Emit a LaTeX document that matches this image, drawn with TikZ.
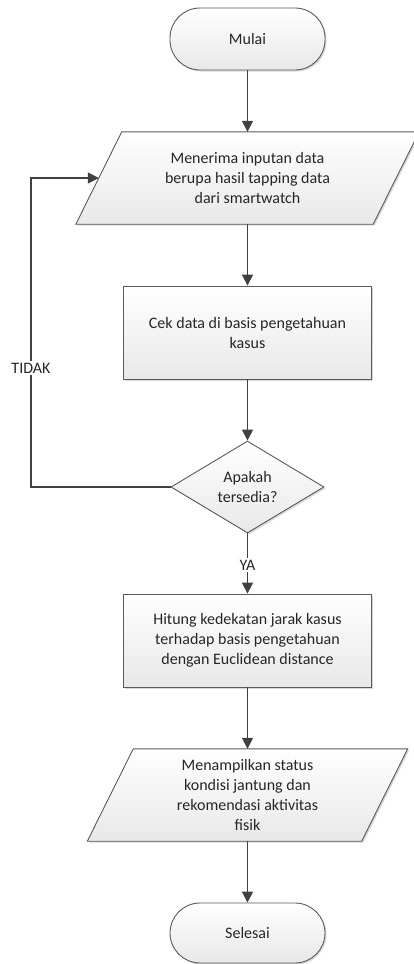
\documentclass[tikz,border=0pt]{standalone}
\usepackage{fontspec}
\setmainfont{Carlito}
\usetikzlibrary{shapes.geometric,shadows,calc,arrows.meta,backgrounds}
\definecolor{linec}{HTML}{404040}
\definecolor{borderc}{HTML}{5A5A5A}
\definecolor{txtc}{HTML}{262626}
\tikzset{
  shapestyle/.style={draw=borderc, line width=0.9pt, top color=white, bottom color=black!9,
    drop shadow={shadow xshift=1.5pt, shadow yshift=-1.5pt, fill=black!30, opacity=0.5}},
  term/.style={shapestyle, rectangle, rounded corners=30pt, minimum width=155pt, inner sep=0pt},
  procbox/.style={shapestyle, rectangle, minimum width=248pt, minimum height=93pt, inner sep=0pt, align=center},
  holder/.style={draw=none, rectangle, inner sep=0pt, align=center},
  decision/.style={shapestyle, diamond, aspect=1.66, minimum width=153pt, minimum height=92pt, inner sep=0pt, align=center},
  arr/.style={draw=linec, line width=1.6pt, -{Triangle[length=11pt,width=11pt]}},
  conn/.style={draw=linec, line width=1.6pt},
  lbl/.style={fill=white, inner sep=2pt},
}
\begin{document}
\begin{tikzpicture}[x=1pt,y=-1pt, font=\fontsize{16}{20}\selectfont, text=txtc]
\useasboundingbox (0,0) rectangle (414,964);
\node[term, minimum height=62pt] (start) at (247.5,39) {Mulai};
\node[holder, minimum width=297pt, minimum height=92pt] (p1) at (247.5,178) {Menerima inputan data\\berupa hasil tapping data\\dari smartwatch};
\node[procbox] (r1) at (247.5,332.5) {Cek data di basis pengetahuan\\kasus};
\node[decision] (d) at (247.5,487) {Apakah\\tersedia?};
\node[procbox] (r2) at (247.5,640.5) {Hitung kedekatan jarak kasus\\terhadap basis pengetahuan\\dengan Euclidean distance};
\node[holder, minimum width=274pt, minimum height=92pt] (p2) at (247.5,795) {Menampilkan status\\kondisi jantung dan\\rekomendasi aktivitas\\fisik};
\node[term, minimum height=60pt] (end) at (247.5,933) {Selesai};
\begin{scope}[on background layer]
\path[shapestyle] ($(p1.south west)+(-23,0)$) -- ($(p1.south east)+(-23,0)$) -- ($(p1.north east)+(23,0)$) -- ($(p1.north west)+(23,0)$) -- cycle;
\path[shapestyle] ($(p2.south west)+(-23,0)$) -- ($(p2.south east)+(-23,0)$) -- ($(p2.north east)+(23,0)$) -- ($(p2.north west)+(23,0)$) -- cycle;
\end{scope}
\draw[arr] (start) -- (p1);
\draw[arr] (p1) -- (r1);
\draw[arr] (r1) -- (d);
\draw[arr] (d) -- (r2);
\draw[arr] (r2) -- (p2);
\draw[arr] (p2) -- (end);
\coordinate (lp) at (31,487);
\draw[arr] (d.west) -- (lp) |- (p1.west);
\node[lbl] (ya) at (247.5,565) {YA};
\node[lbl] (tidak) at (31,368) {TIDAK};
\end{tikzpicture}
\end{document}
